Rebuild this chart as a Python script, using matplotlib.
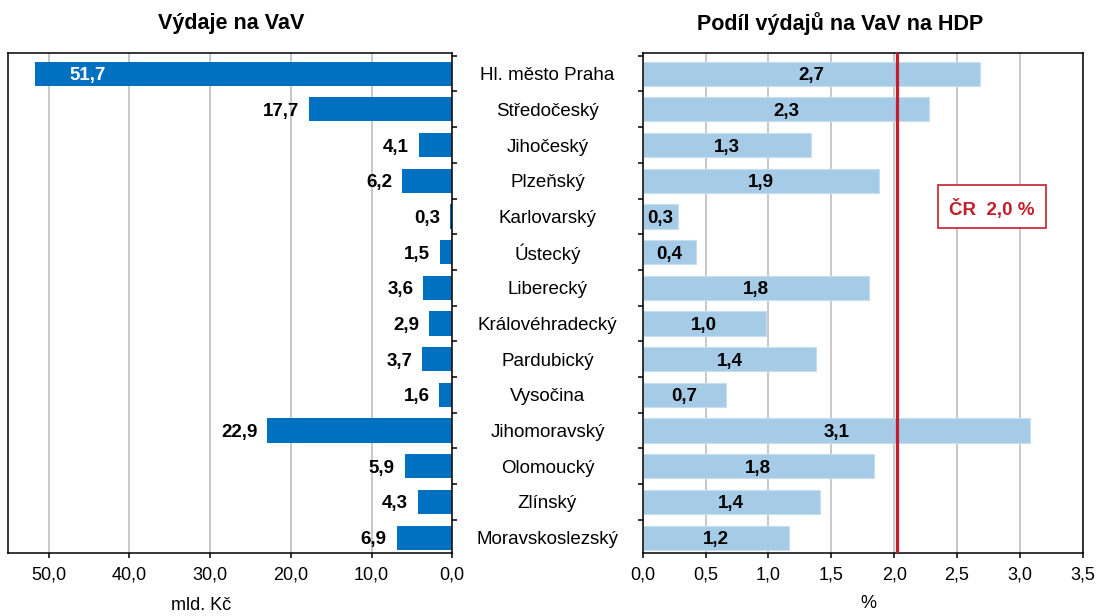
import matplotlib
matplotlib.use('Agg')
import matplotlib.pyplot as plt
import numpy as np
from matplotlib.patches import Rectangle
from matplotlib.transforms import blended_transform_factory

plt.rcParams['font.family'] = ['Liberation Sans', 'DejaVu Sans']

# data
regions = ['Hl. město Praha', 'Středočeský', 'Jihočeský', 'Plzeňský',
           'Karlovarský', 'Ústecký', 'Liberecký', 'Královéhradecký',
           'Pardubický', 'Vysočina', 'Jihomoravský', 'Olomoucký',
           'Zlínský', 'Moravskoslezský']
vydaje = [51.7, 17.7, 4.1, 6.2, 0.3, 1.5, 3.6, 2.9, 3.7, 1.6, 22.9, 5.9, 4.3, 6.9]
podil_hdp = [2.68, 2.28, 1.34, 1.88, 0.28, 0.42, 1.80, 0.98, 1.38, 0.66,
             3.08, 1.84, 1.41, 1.16]
podil_cr = 2.02
left_ticks = [50, 40, 30, 20, 10, 0]
right_ticks = [0, 0.5, 1.0, 1.5, 2.0, 2.5, 3.0, 3.5]

DARK = '#0070C0'
LIGHT = '#A6CBE6'
RED = '#C41E2C'


def fmt(v):
    return f'{v:.1f}'.replace('.', ',')


def style_axis(ax, ticks):
    ax.set_xticks(ticks)
    ax.set_xticklabels([fmt(t) for t in ticks], fontsize=13)
    ax.set_yticks(np.arange(-0.5, len(regions), 1))
    ax.set_yticklabels([])
    ax.tick_params(direction='out', length=3.6, width=1.1, pad=6)
    for s in ax.spines.values():
        s.set_linewidth(1.1)
    ax.grid(axis='x', color='#C4C4C4', lw=1.3, zorder=0)
    ax.set_axisbelow(True)
    # radky jsou v originale lehce posunute dolu
    ax.set_ylim(len(regions) - 0.57, -0.57)


W, H = 1098, 616
fig = plt.figure(figsize=(W / 100, H / 100), dpi=100)
y = np.arange(len(regions))

# levy graf - vydaje v mld. Kc
ax1 = fig.add_axes([8.3 / W, 63 / H, 444 / W, 499.7 / H])
ax1.barh(y, vydaje, height=0.68, color=DARK, zorder=2)
ax1.set_xlim(55, 0)
style_axis(ax1, left_ticks)
ax1.yaxis.tick_right()
for i, v in enumerate(vydaje):
    if v > 30:
        ax1.annotate(fmt(v), (v, i), xytext=(35, 0), textcoords='offset pixels',
                     ha='left', va='center_baseline', color='white', fontsize=13.5,
                     fontweight='bold')
    else:
        ax1.annotate(fmt(v), (v, i), xytext=(-10, 0), textcoords='offset pixels',
                     ha='right', va='center_baseline', color='black', fontsize=13.5,
                     fontweight='bold')

# nazvy kraju uprostred
trans = blended_transform_factory(fig.transFigure, ax1.transData)
for i, name in enumerate(regions):
    ax1.text(547.5 / W, i, name, transform=trans, ha='center', va='center_baseline',
             fontsize=13.5, clip_on=False)

# pravy graf - podil na HDP
ax2 = fig.add_axes([642.7 / W, 63 / H, 440 / W, 499.7 / H])
ax2.barh(y, podil_hdp, height=0.68, color=LIGHT, edgecolor='#C6DEF1', lw=0.8, zorder=2)
ax2.set_xlim(0, 3.5)
style_axis(ax2, right_ticks)
ax2.axvline(podil_cr, color=RED, lw=2.3, zorder=3)
for i, v in enumerate(podil_hdp):
    ax2.text(v / 2, i, fmt(v), ha='center', va='center_baseline', fontsize=13.5,
             fontweight='bold', zorder=4)

ax2.add_patch(Rectangle((0.671, 0.6504), 0.2456, 0.086, transform=ax2.transAxes,
                        facecolor='white', edgecolor=RED, lw=1.2, zorder=5))
ax2.text(0.794, 0.693, 'ČR  ' + fmt(podil_cr) + ' %', transform=ax2.transAxes,
         ha='center', va='center_baseline', color=RED, fontsize=13.5,
         fontweight='bold', zorder=6)

# nadpisy a popisky os
fig.text(231 / W, 1 - 24 / H, 'Výdaje na VaV', ha='center', va='center',
         fontsize=15.5, fontweight='bold')
fig.text(840 / W, 1 - 24 / H, 'Podíl výdajů na VaV na HDP', ha='center',
         va='center', fontsize=15.5, fontweight='bold')
fig.text(200.8 / W, 1 - 606 / H, 'mld. Kč', ha='center', va='center', fontsize=13)
fig.text(868 / W, 1 - 604 / H, '%', ha='center', va='center', fontsize=13)

fig.savefig('out.png', dpi=100)
plt.close(fig)
